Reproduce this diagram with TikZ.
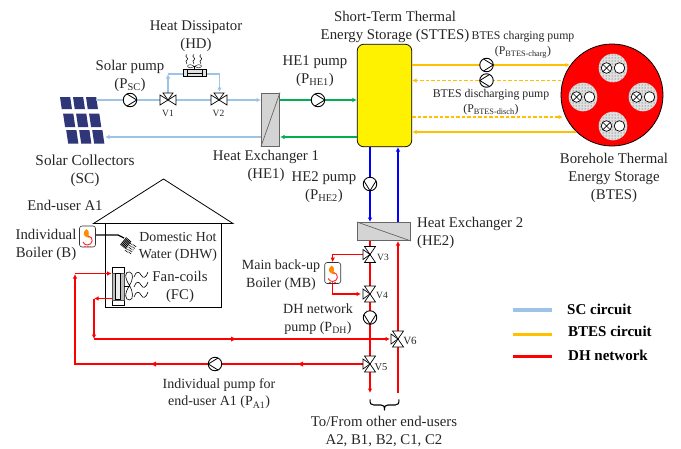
\documentclass[tikz,border=0pt]{standalone}
\usepackage{fontspec}
\setmainfont{Liberation Serif}
\usetikzlibrary{arrows.meta,patterns}
\definecolor{scblue}{RGB}{157,195,230}
\definecolor{hegreen}{RGB}{0,176,80}
\definecolor{btesor}{RGB}{255,192,0}
\definecolor{panel}{RGB}{47,55,120}
\tikzset{
 x=1pt,y=-1pt,
 lab/.style={font=\fontsize{14.8}{18}\selectfont,align=center,inner sep=0pt,text=black!85},
 smalllab/.style={font=\fontsize{11.8}{15}\selectfont,align=center,inner sep=0pt,text=black!85},
 vlab/.style={font=\fontsize{9.5}{11}\selectfont,inner sep=0pt,text=black!85},
 leg/.style={font=\bfseries\fontsize{15}{17}\selectfont,anchor=west,inner sep=0pt,text=black},
 tip/.style={-{Latex[length=4.5pt,width=4.5pt]}},
 sc/.style={scblue,line width=1.2pt},
 heg/.style={hegreen,line width=1.2pt},
 bt/.style={btesor,line width=1.2pt},
 btd/.style={btesor,line width=1.2pt,dash pattern=on 3.5pt off 2pt},
 hetwo/.style={blue,line width=1.2pt},
 dh/.style={red,line width=1.2pt},
 legbar/.style={line width=3.6pt},
 pumpc/.style={circle,draw=black,line width=.9pt,fill=white,minimum size=13.5pt,inner sep=0pt},
 boilerbox/.style={draw=black!80,rounded corners=2.5pt,fill=white,line width=.6pt,minimum width=16pt,minimum height=21pt,inner sep=0pt},
 exch/.style={draw=black!60,fill=black!17,line width=1pt,inner sep=0pt},
 vtri/.style={draw=black,line width=.7pt,fill=white},
}
\newcommand{\pumpsym}[2]{%
 \node[pumpc] (#1sym) at (#1) {};
 \begin{scope}[shift={(#1)},rotate=#2]
 \draw[black,line width=.8pt,line join=round] (-3,-6) -- (6.7,0) -- (-3,6);
 \end{scope}}
\newcommand{\valveh}[1]{%
 \begin{scope}[shift={(#1)}]
 \draw[vtri] (-8,-5) -- (0,0) -- (-8,5) -- cycle;
 \draw[vtri] (8,-5) -- (0,0) -- (8,5) -- cycle;
 \draw[vtri] (-5,-7) -- (0,0) -- (5,-7) -- cycle;
 \end{scope}}
\newcommand{\valvev}[1]{%
 \begin{scope}[shift={(#1)}]
 \draw[vtri] (-5.5,-8) -- (0,0) -- (5.5,-8) -- cycle;
 \draw[vtri] (-5.5,8) -- (0,0) -- (5.5,8) -- cycle;
 \draw[vtri] (-7,-5) -- (0,0) -- (-7,5) -- cycle;
 \end{scope}}
\newcommand{\flame}[1]{%
 \begin{scope}[shift={(#1)}]
 \fill[orange!90!yellow] (-1,-8) .. controls (4,-4) and (-1,-3) .. (2,1) .. controls (-4,0) and (-6,-4) .. (-1,-8);
 \draw[red!85,line width=.9pt] (1,-1) .. controls (6.5,0) and (5.5,8) .. (0,8) .. controls (-2,8) and (-3.5,7) .. (-4.5,5);
 \draw[red!70,line width=.6pt,densely dotted] (-4,9) -- (4,9);
 \end{scope}}
\begin{document}
\begin{tikzpicture}
\useasboundingbox (0,0) rectangle (681,448);
\fill[white] (0,0) rectangle (681,448);
% ---------- positions
\coordinate (scout) at (96,100);
\coordinate (scin) at (105,137);
\coordinate (psc) at (130,100);
\coordinate (v1) at (168,100);
\coordinate (v2) at (219,100);
\coordinate (phe1) at (318,100);
\coordinate (pc) at (486.5,65);
\coordinate (pd) at (486.5,80.5);
\coordinate (phe2) at (370,184);
\coordinate (v3) at (370,254.5);
\coordinate (v4) at (370,294);
\coordinate (pdh) at (370,317.5);
\coordinate (v5) at (370,364);
\coordinate (v6) at (398,339);
\coordinate (pa1) at (215,364);
\coordinate (hdl) at (168,74);
\coordinate (hdr) at (219.5,74);
\coordinate (rl) at (75,364);
\coordinate (rm) at (94,339);
\coordinate (outa) at (370,393);
\coordinate (outb) at (398,393);
% ---------- solar panel
\foreach \r/\ya/\yb in {0/97/109,1/113.5/127,2/130/143.5}{
 \foreach \c in {0,1,2}{
  \pgfmathsetmacro{\xa}{60+\c*13+\r*3.1}
  \pgfmathsetmacro{\sl}{(\yb-\ya)*.145}
  \fill[panel] (\xa,\ya) -- (\xa+10.2,\ya) -- (\xa+10.2+\sl,\yb) -- (\xa+\sl,\yb) -- cycle;
 }}
% ---------- main components
\node[exch,minimum width=18pt,minimum height=53pt] (he1) at (270.5,119.5) {};
\draw[black!60,line width=.7pt] (he1.south west) -- (he1.north east);
\node[draw=black,fill=yellow,line width=.7pt,rounded corners=6.5pt,minimum width=54.5pt,minimum height=102.5pt,inner sep=0pt] (st) at (384.5,95.5) {};
\node[exch,minimum width=53pt,minimum height=18pt] (he2) at (384,231.5) {};
\draw[black!60,line width=.7pt] (he2.north west) -- (he2.south east);
\node[circle,draw=black,fill=red,line width=.8pt,minimum size=102pt,inner sep=0pt] (bt) at (612,95) {};
\foreach \cx/\cy in {613/68,583/97,613/126,643/97}{
 \fill[black!12] (\cx,\cy) circle (14.3pt);
 \fill[pattern=dots,pattern color=black!75] (\cx,\cy) circle (14.3pt);
 \draw[black,line width=.7pt,fill=white] (\cx-6.5,\cy) circle (5.3pt);
 \draw[black,line width=.7pt] (\cx-10.2,\cy-3.7) -- (\cx-2.8,\cy+3.7) (\cx-10.2,\cy+3.7) -- (\cx-2.8,\cy-3.7);
 \draw[black,line width=.7pt,fill=white] (\cx+6.5,\cy) circle (5.3pt);
}
% ---------- SC loop
\draw[sc,tip] (scout) -- (he1.west|-scout);
\draw[sc,tip] (he1.west|-scin) -- (scin);
\draw[sc,tip] (v1) -- (hdl);
\draw[sc] (hdl) -- (hdr);
\draw[sc,tip] (hdr) -- (hdr|-0,92);
% ---------- HD
\node[draw=black,fill=black!12,line width=.7pt,minimum width=23pt,minimum height=7pt,inner sep=0pt] (hd) at (194.5,73) {};
\draw[black,line width=.5pt] (187,69.5) -- (187,76.5) (202,69.5) -- (202,76.5);
\draw[black,line width=.9pt] (187,73) -- (202,73);
\draw[black,line width=.4pt,fill=white] (194.5,66.5) .. controls (188,62) and (185,67) .. (190,68) .. controls (192,68) and (193,67) .. (194.5,66.5) .. controls (201,62) and (204,67) .. (199,68) .. controls (197,68) and (196,67) .. (194.5,66.5);
\draw[black,line width=.5pt] (194.5,66.5) -- (194.5,69.5);
\foreach \dx in {-7,0,7}{
 \draw[black,line width=.5pt] (194+\dx,54.5) .. controls (194+\dx-4,56.5) and (194+\dx+3,58) .. (194+\dx,60) .. controls (194+\dx-3,61.5) and (194+\dx+1,62.5) .. (194+\dx,64);}
% ---------- HE1 circuit
\draw[heg,tip] (he1.east|-phe1) -- (st.west|-phe1);
\draw[heg,tip] (st.west|-0,137) -- (he1.east|-0,137);
% ---------- BTES circuit
\draw[bt,tip] (st.east|-pc) -- (570,65);
\draw[btd,tip] (561,80.5) -- (st.east|-pd);
\draw[btd,tip] (st.east|-0,117) -- (563,117);
\draw[bt,tip] (576,132) -- (st.east|-0,132);
% ---------- HE2 circuit
\draw[hetwo,tip] (st.south-|phe2) -- (he2.north-|phe2);
\draw[hetwo,tip] (he2.north-|outb) -- (st.south-|outb);
% ---------- House
\draw[black,line width=.8pt] (93.5,223.5) -- (163.5,179) -- (233,223.5) -- cycle;
\draw[black,line width=.8pt] (105.5,223.5) -- (105.5,307) -- (221,307) -- (221,223.5);
% ---------- boiler B and DHW
\node[boilerbox] (bb) at (87.5,236.5) {};
\flame{87.5,237}
\coordinate (sh) at (118,235);
\draw[black,line width=1.3pt] (bb.east|-sh) -- (sh) -- (124,238);
\foreach \i in {0,1,2,3,4}{\draw[black,line width=.9pt] (120.5+\i*1.1,245+\i*.9) -- (126.5+\i*1.1,237.5+\i*.9);}
\foreach \i in {0,1,2,3,4}{\draw[black,line width=.7pt,dash pattern=on 1pt off 1.2pt] (125+\i*1.3,252+\i*.7-1) -- (131+\i*1.3,243+\i*.7);}
% ---------- FC
\node[draw=black,fill=white,line width=.6pt,minimum width=12pt,minimum height=38pt,inner sep=0pt] (fc) at (118,286) {};
\node[draw=black!70,fill=black!25,line width=.5pt,minimum width=12pt,minimum height=26.5pt,inner sep=0pt] (fci) at (118,286.5) {};
\draw[black,line width=.5pt,fill=black!8] (115,273.5) rectangle (120.5,299.5);
\draw[black,line width=.6pt] (fc.east|-0,286) -- (129,286);
\draw[black,line width=.6pt] (129.5,285.5) .. controls (124,277) and (125,271) .. (129.5,272) .. controls (134,273) and (133,280) .. (129.5,285.5) .. controls (124,294) and (125,300) .. (129.5,300) .. controls (134,300) and (133,291) .. (129.5,285.5);
\foreach \dy in {0,10,20}{
 \draw[black,line width=.6pt] (134,277+\dy) .. controls (136,271+\dy) and (139,271+\dy) .. (141,275+\dy) .. controls (143,279+\dy) and (146,278+\dy) .. (148,272+\dy);}
% ---------- main back-up boiler
\node[boilerbox] (mb) at (332.7,273) {};
\flame{332.7,273.5}
% ---------- DH network
\draw[dh] (he2.south-|v3) -- (v5);
\draw[dh,tip] (v5) -- (outa);
\draw[dh,tip] (outb) -- (he2.south-|outb);
\draw[dh,tip] (v3) -- (332.7,254.5) -- (mb.north);
\draw[dh,tip] (mb.south) -- (332.7,294) -- (361,294);
\draw[dh,tip] (v5) -- (rl) -- (75,274);
\draw[dh,tip] (75,273.5) -- (fc.west|-0,273.5);
\draw[dh,tip] (fc.west|-0,298.5) -- (94,298.5);
\draw[dh,tip] (94,298.5) -- (rm);
\draw[dh,tip] (rm) -- (390,339);
\fill[red] (236,339) -- (231,336.5) -- (231,341.5) -- cycle;
\fill[red] (298,364) -- (303,361.5) -- (303,366.5) -- cycle;
\fill[red] (151,364) -- (156,361.5) -- (156,366.5) -- cycle;
\draw[red,line width=1.6pt] (75,364.3) -- (163,364.3);
% ---------- pumps and valves on top of pipes
\pumpsym{psc}{0}
\pumpsym{phe1}{0}
\pumpsym{pc}{0}
\pumpsym{pd}{180}
\pumpsym{phe2}{-90}
\pumpsym{pdh}{-90}
\pumpsym{pa1}{180}
\valveh{v1}
\valveh{v2}
\valvev{v3}
\valvev{v4}
\valvev{v5}
\valvev{v6}
\node[vlab] (lv1) at (168,113) {V1};
\node[vlab] (lv2) at (218.5,113) {V2};
\node[vlab] (lv3) at (383,257) {V3};
\node[vlab] (lv4) at (382,295) {V4};
\node[vlab,font=\fontsize{10.5}{12}\selectfont] (lv5) at (381,367) {V5};
\node[vlab,font=\fontsize{11}{12}\selectfont] (lv6) at (410,341) {V6};
% ---------- brace
\draw[black,line width=1.1pt,line join=round] (370,399.5) .. controls (370,404) and (371,405) .. (374,405) -- (381,405) .. controls (383.5,405) and (384.5,406) .. (384.5,410) .. controls (384.5,406) and (385.5,405) .. (388,405) -- (395,405) .. controls (398,405) and (399,404) .. (399,399.5);
% ---------- labels
\node[lab] (t1) at (196,36) {Heat Dissipator\\(HD)};
\node[lab] (t2) at (130,76) {Solar pump\\(P\textsubscript{SC})};
\node[lab,font=\fontsize{15.3}{18}\selectfont] (t3) at (85,170.5) {Solar Collectors\\(SC)};
\node[lab] (t4) at (266,165.5) {Heat Exchanger 1\\(HE1)};
\node[lab] (t5) at (315,71) {HE1 pump\\(P\textsubscript{HE1})};
\node[lab] (t6) at (395,27) {Short-Term Thermal\\Energy Storage (STTES)};
\node[smalllab] (t7) at (523,45) {BTES charging pump\\(P\textsubscript{BTES-charg})};
\node[smalllab] (t8) at (491,102) {BTES discharging pump\\(P\textsubscript{BTES-disch})};
\node[lab] (t9) at (614,178) {Borehole Thermal\\Energy Storage\\(BTES)};
\node[lab] (t10) at (324,187) {HE2 pump\\(P\textsubscript{HE2})};
\node[lab,anchor=west,align=left] (t11) at (417,233) {Heat Exchanger 2\\(HE2)};
\node[lab] (t12) at (65,205) {End-user A1};
\node[lab] (t13) at (46,245) {Individual\\Boiler (B)};
\node[lab,font=\fontsize{13.8}{17.5}\selectfont] (t14) at (178,247) {Domestic Hot\\Water (DHW)};
\node[lab] (t15) at (180,287) {Fan-coils\\(FC)};
\node[lab,font=\fontsize{14}{18}\selectfont] (t16) at (281,275.5) {Main back-up\\Boiler (MB)};
\node[lab,font=\fontsize{14}{18}\selectfont] (t17) at (318,319) {DH network\\pump (P\textsubscript{DH})};
\node[lab,font=\fontsize{14}{17}\selectfont] (t18) at (219,394) {Individual pump for\\end-user A1 (P\textsubscript{A1})};
\node[lab] (t19) at (384,431.5) {To/From other end-users\\A2, B1, B2, C1, C2};
% ---------- legend
\coordinate (la) at (513,310);
\coordinate (lb) at (513,334.5);
\coordinate (lc) at (513,356.5);
\draw[legbar,scblue] (la) -- +(39,0);
\draw[legbar,btesor] (lb) -- +(39,0);
\draw[legbar,red] (lc) -- +(39,0);
\node[leg] (l1) at (567,309) {SC circuit};
\node[leg] (l2) at (568,331) {BTES circuit};
\node[leg] (l3) at (568,355) {DH network};
\end{tikzpicture}
\end{document}
